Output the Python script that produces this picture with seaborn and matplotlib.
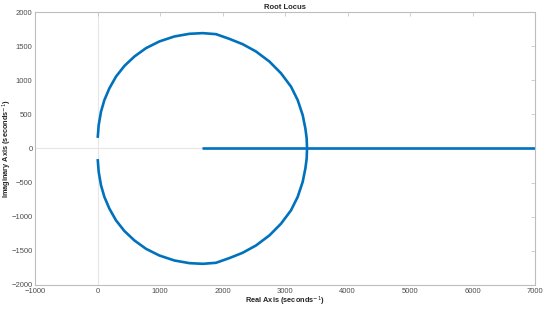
import numpy as np
import pandas as pd
import seaborn as sns
import matplotlib.pyplot as plt

# upper branch of the locus (real, imag)
upper_re = [0, 16, 53, 107, 187, 293, 427, 587, 773, 987, 1227, 1467, 1680,
            1893, 2107, 2320, 2533, 2747, 2933, 3093, 3200, 3280, 3323, 3344, 3350]
upper_im = [155, 343, 540, 710, 882, 1054, 1210, 1348, 1471, 1569, 1642, 1681, 1691,
            1676, 1607, 1529, 1422, 1275, 1103, 907, 710, 490, 294, 147, 0]
# lower branch is the mirror image (complex conjugate poles)
lower_re = upper_re
lower_im = [-v for v in upper_im]
# branch running along the real axis
axis_re = [1664, 7200]
axis_im = [0, 0]

sns.set_style('white')
plt.rcParams['font.family'] = ['Liberation Sans', 'DejaVu Sans']

blue = '#0072BD'
grey = '#4d4d4d'

fig, ax = plt.subplots(figsize=(5.5, 3.09), dpi=100)
fig.subplots_adjust(left=0.064, right=0.973, top=0.961, bottom=0.078)

# faint lines through the origin
ax.axhline(0, color='#e6e6e6', lw=0.8, zorder=0)
ax.axvline(0, color='#e6e6e6', lw=0.8, zorder=0)

branches = [(upper_re, upper_im), (lower_re, lower_im), (axis_re, axis_im)]
for re, im in branches:
    df = pd.DataFrame({'re': re, 'im': im})
    sns.lineplot(data=df, x='re', y='im', sort=False, color=blue, lw=1.9,
                 ax=ax, estimator=None, solid_capstyle='butt')

ax.set_xlim(-1000, 7000)
ax.set_ylim(-2000, 2000)
ax.set_xticks(np.arange(-1000, 7001, 1000))
ax.set_yticks(np.arange(-2000, 2001, 500))

ax.set_title('Root Locus', fontsize=5.5, fontweight='bold', pad=2)
ax.set_xlabel('Real Axis (seconds$^{-1}$)', fontsize=5.3, fontweight='bold', va='center')
ax.set_ylabel('Imaginary Axis (seconds$^{-1}$)', fontsize=5.3, fontweight='bold',
              va='center', rotation_mode='default')
ax.xaxis.set_label_coords(0.5, -0.062)
ax.yaxis.set_label_coords(-0.056, 0.5)

ax.tick_params(direction='in', length=3, width=0.5, color='#bdbdbd', labelsize=5.5,
               labelcolor=grey, top=True, right=True, pad=2)
for s in ax.spines.values():
    s.set_color('#bdbdbd')
    s.set_linewidth(0.8)

plt.savefig('out.png', dpi=100)
